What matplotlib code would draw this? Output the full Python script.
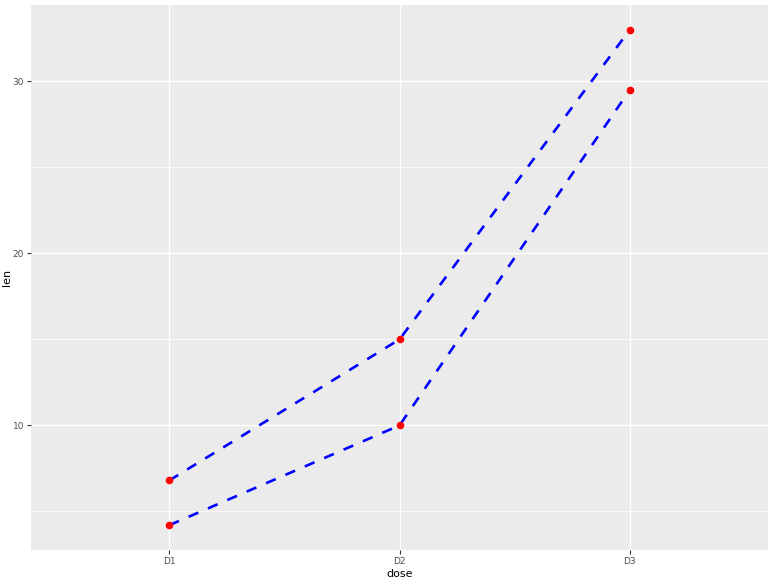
import matplotlib
matplotlib.use("Agg")
import matplotlib.pyplot as plt

# data
doses = ["D1", "D2", "D3"]
len_vc = [4.2, 10, 29.5]
len_oj = [6.8, 15, 33]

W, H = 773, 580
fig = plt.figure(figsize=(W / 100, H / 100), dpi=100)
ax = fig.add_axes([31 / W, 30 / H, (768 - 31) / W, (550 - 5) / H])
ax.set_facecolor("#EBEBEB")

x = list(range(len(doses)))
for series in (len_vc, len_oj):
    ax.plot(x, series, color="blue", linewidth=1.9, linestyle=(0, (4, 4)),
            dash_capstyle="butt", zorder=3)
    ax.scatter(x, series, color="red", s=30, zorder=4, linewidths=0)

ax.set_xlim(-0.6, 2.6)
lo, hi = 4.2, 33
pad = (hi - lo) * 0.05
ax.set_ylim(lo - pad, hi + pad)
ax.set_xticks(x)
ax.set_xticklabels(doses)
ax.set_yticks([10, 20, 30])
ax.set_yticks([5, 15, 25], minor=True)

ax.grid(which="major", color="white", linewidth=1.0)
ax.grid(which="minor", axis="y", color="white", linewidth=0.5)
ax.set_axisbelow(True)
for s in ax.spines.values():
    s.set_visible(False)

ax.tick_params(which="major", length=3, width=0.8, color="#333333",
               labelsize=6.5, labelcolor="#4D4D4D", pad=2)
ax.tick_params(which="minor", length=0)
ax.set_xlabel("dose", fontsize=8, color="black", labelpad=2)
ax.set_ylabel("len", fontsize=8, color="black")
ax.yaxis.set_label_coords(-19 / 737, 0.5)

fig.savefig("out.png", dpi=100)
